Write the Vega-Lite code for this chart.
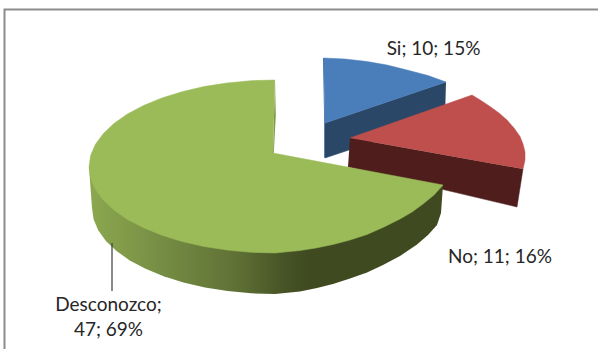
{
  "$schema": "https://vega.github.io/schema/vega-lite/v6.json",
  "width": 598,
  "height": 349,
  "padding": 0,
  "autosize": {"type": "none"},
  "background": "white",
  "view": {"stroke": null},
  "datasets": {
    "marco": [{"x": 326, "y": 145.5, "o": 0}, {"x": -267.5, "y": 145.5, "o": 1}, {"x": -267.5, "y": -194, "o": 2}],
    "si_lateral": [{"x": 174, "y": 73, "o": 0}, {"x": 53, "y": 32, "o": 1}, {"x": 53, "y": -3, "o": 2}, {"x": 173, "y": 37, "o": 3}],
    "si_canto": [{"x": 51, "y": 97, "o": 0}, {"x": 52, "y": 97, "o": 1}, {"x": 53, "y": 32, "o": 2}, {"x": 53, "y": -3, "o": 3}, {"x": 52.2, "y": -2.5, "o": 4}, {"x": 52.2, "y": 32, "o": 5}],
    "si_superficie": [
      {"x": 51.5, "y": 97, "o": 0}, {"x": 73, "y": 96, "o": 1}, {"x": 95, "y": 93.5, "o": 2}, {"x": 115, "y": 90, "o": 3},
      {"x": 135, "y": 85, "o": 4}, {"x": 156, "y": 79.5, "o": 5}, {"x": 174, "y": 73, "o": 6}, {"x": 53, "y": 32, "o": 7}
    ],
    "no_lateral": [{"x": 78, "y": 17, "o": 0}, {"x": 251, "y": -14, "o": 1}, {"x": 245, "y": -52, "o": 2}, {"x": 76, "y": -12, "o": 3}],
    "no_superficie": [
      {"x": 78, "y": 17, "o": 0}, {"x": 200, "y": 60, "o": 1}, {"x": 209, "y": 54.5, "o": 2}, {"x": 218, "y": 48.5, "o": 3},
      {"x": 227, "y": 42, "o": 4}, {"x": 235, "y": 35, "o": 5}, {"x": 242, "y": 27, "o": 6}, {"x": 248, "y": 18.5, "o": 7},
      {"x": 251, "y": 11, "o": 8}, {"x": 253, "y": 3, "o": 9}, {"x": 253, "y": -5, "o": 10}, {"x": 251, "y": -14, "o": 11}
    ],
    "desconozco_lateral": [
      {"x": -183, "y": -12, "o": 0}, {"x": -180, "y": -53, "o": 1}, {"x": -178.4, "y": -64.2, "o": 2}, {"x": -173.8, "y": -75.3, "o": 3},
      {"x": -166.1, "y": -85.9, "o": 4}, {"x": -155.5, "y": -96, "o": 5}, {"x": -142.2, "y": -105.4, "o": 6}, {"x": -126.4, "y": -113.8, "o": 7},
      {"x": -108.4, "y": -121.2, "o": 8}, {"x": -88.5, "y": -127.5, "o": 9}, {"x": -67, "y": -132.5, "o": 10}, {"x": -44.4, "y": -136.1, "o": 11},
      {"x": -20.9, "y": -138.3, "o": 12}, {"x": 3, "y": -139, "o": 13}, {"x": 28, "y": -136.5, "o": 14}, {"x": 45, "y": -133, "o": 15},
      {"x": 61, "y": -129, "o": 16}, {"x": 78, "y": -123.5, "o": 17}, {"x": 95, "y": -117.5, "o": 18}, {"x": 111, "y": -110, "o": 19},
      {"x": 128, "y": -101, "o": 20}, {"x": 145, "y": -89.5, "o": 21}, {"x": 156, "y": -80, "o": 22}, {"x": 165, "y": -70, "o": 23},
      {"x": 169, "y": -58, "o": 24}, {"x": 171, "y": -30, "o": 25}
    ],
    "desconozco_canto": [{"x": 3, "y": 75, "o": 0}, {"x": 3.8, "y": 40, "o": 1}, {"x": 1.8, "y": 2, "o": 2}, {"x": 1, "y": 2, "o": 3}],
    "desconozco_superficie": [
      {"x": 3, "y": 75, "o": 0}, {"x": -21.3, "y": 74.3, "o": 1}, {"x": -45.1, "y": 72, "o": 2}, {"x": -68.2, "y": 68.4, "o": 3},
      {"x": -90, "y": 63.3, "o": 4}, {"x": -110.2, "y": 57, "o": 5}, {"x": -128.5, "y": 49.5, "o": 6}, {"x": -144.6, "y": 41, "o": 7},
      {"x": -158.1, "y": 31.5, "o": 8}, {"x": -168.8, "y": 21.3, "o": 9}, {"x": -176.7, "y": 10.5, "o": 10}, {"x": -181.4, "y": -0.6, "o": 11},
      {"x": -183, "y": -12, "o": 12}, {"x": -181.4, "y": -23.2, "o": 13}, {"x": -176.7, "y": -34.3, "o": 14}, {"x": -168.8, "y": -44.9, "o": 15},
      {"x": -158.1, "y": -55, "o": 16}, {"x": -144.6, "y": -64.4, "o": 17}, {"x": -128.5, "y": -72.8, "o": 18}, {"x": -110.2, "y": -80.2, "o": 19},
      {"x": -90, "y": -86.5, "o": 20}, {"x": -68.2, "y": -91.5, "o": 21}, {"x": -45.1, "y": -95.1, "o": 22}, {"x": -21.3, "y": -97.3, "o": 23},
      {"x": 3, "y": -98, "o": 24}, {"x": 28, "y": -95.5, "o": 25}, {"x": 44, "y": -93, "o": 26}, {"x": 61, "y": -89.5, "o": 27},
      {"x": 78, "y": -85, "o": 28}, {"x": 95, "y": -79.5, "o": 29}, {"x": 112, "y": -72, "o": 30}, {"x": 128, "y": -64, "o": 31},
      {"x": 140, "y": -57, "o": 32}, {"x": 151, "y": -49, "o": 33}, {"x": 162, "y": -40, "o": 34}, {"x": 171, "y": -30, "o": 35},
      {"x": 1, "y": 2, "o": 36}
    ],
    "guia": [{"x": -160, "y": -88, "o": 0}, {"x": -160, "y": -136, "o": 1}],
    "etiquetas": [
      {"categoria": "Si", "valor": 10, "porcentaje": 15, "texto": "Si; 10; 15%", "x": 161.5, "y": 106},
      {"categoria": "No", "valor": 11, "porcentaje": 16, "texto": "No; 11; 16%", "x": 228, "y": -102},
      {"categoria": "Desconozco", "valor": 47, "porcentaje": 69, "texto": ["Desconozco;", "47; 69%"], "x": -163.5, "y": -149.5}
    ]
  },
  "encoding": {
    "x": {"field": "x", "type": "quantitative", "scale": {"domain": [-272, 326], "nice": false, "zero": false}, "axis": null},
    "y": {"field": "y", "type": "quantitative", "scale": {"domain": [-194, 155], "nice": false, "zero": false}, "axis": null}
  },
  "layer": [
    {"data": {"name": "marco"}, "mark": {"type": "line", "stroke": "#8c8c8c", "strokeWidth": 2}, "encoding": {"order": {"field": "o"}}},
    {"data": {"name": "si_lateral"}, "mark": {"type": "line", "fill": "#2b4767", "stroke": "#2b4767", "strokeWidth": 0.5}, "encoding": {"order": {"field": "o"}}},
    {"data": {"name": "si_canto"}, "mark": {"type": "line", "fill": "#3f6a9e", "strokeWidth": 0}, "encoding": {"order": {"field": "o"}}},
    {"data": {"name": "si_superficie"}, "mark": {"type": "line", "fill": "#4a7ebb", "stroke": "#4a7ebb", "strokeWidth": 0.5}, "encoding": {"order": {"field": "o"}}},
    {"data": {"name": "no_lateral"}, "mark": {"type": "line", "fill": "#4f1e1c", "stroke": "#4f1e1c", "strokeWidth": 0.5}, "encoding": {"order": {"field": "o"}}},
    {"data": {"name": "no_superficie"}, "mark": {"type": "line", "fill": "#bf4f4c", "stroke": "#bf4f4c", "strokeWidth": 0.5}, "encoding": {"order": {"field": "o"}}},
    {
      "data": {"name": "desconozco_lateral"},
      "mark": {
        "type": "line",
        "strokeWidth": 0,
        "fill": {
          "gradient": "linear", "x1": 0, "y1": 0, "x2": 1, "y2": 0,
          "stops": [
            {"offset": 0, "color": "#8ca84f"},
            {"offset": 0.2, "color": "#768e44"},
            {"offset": 0.42, "color": "#5f7035"},
            {"offset": 0.55, "color": "#475426"},
            {"offset": 0.62, "color": "#3f4a20"},
            {"offset": 1, "color": "#3f4a20"}
          ]
        }
      },
      "encoding": {"order": {"field": "o"}}
    },
    {"data": {"name": "desconozco_canto"}, "mark": {"type": "line", "fill": "#7f9a48", "strokeWidth": 0}, "encoding": {"order": {"field": "o"}}},
    {"data": {"name": "desconozco_superficie"}, "mark": {"type": "line", "fill": "#9bbb59", "stroke": "#9bbb59", "strokeWidth": 0.5}, "encoding": {"order": {"field": "o"}}},
    {"data": {"name": "guia"}, "mark": {"type": "line", "stroke": "#3c3c3c", "strokeWidth": 1.2}, "encoding": {"order": {"field": "o"}}},
    {
      "data": {"name": "etiquetas"},
      "mark": {"type": "text", "font": "Lato", "fontSize": 19, "color": "#262626", "align": "center", "baseline": "middle", "lineHeight": 25},
      "encoding": {"text": {"field": "texto"}}
    }
  ]
}
